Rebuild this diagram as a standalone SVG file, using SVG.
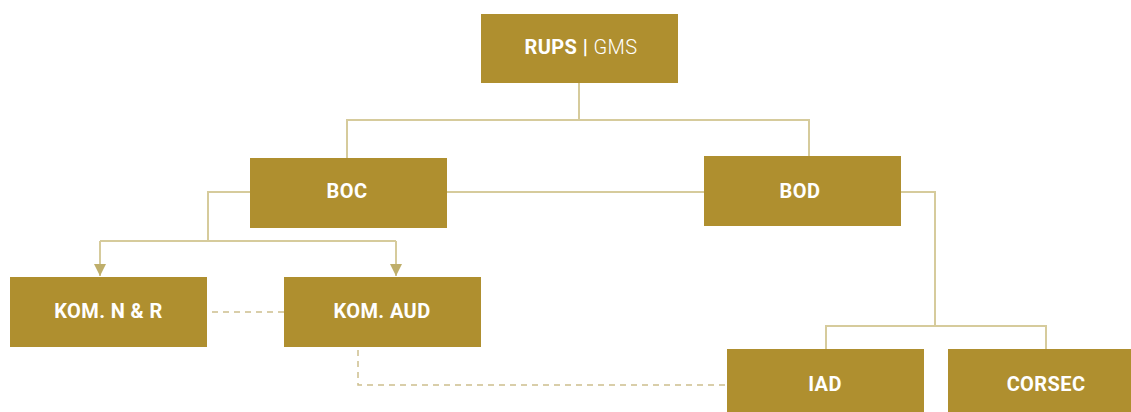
<svg xmlns="http://www.w3.org/2000/svg" width="1131" height="412" viewBox="0 0 1131 412">
  <defs>
    <style>
      .box { fill: #af8f2f; }
      .lbl { font-family: "Roboto", "Liberation Sans", sans-serif; font-size: 20px; font-weight: 700; fill: #ffffff; text-anchor: middle; dominant-baseline: central; letter-spacing: 0.4px; }
      .lite { font-weight: 300; }
      .wire { fill: none; stroke: #d6cb9c; stroke-width: 2; }
      .dash { fill: none; stroke: #cdbf8d; stroke-width: 1.5; stroke-dasharray: 6 5; }
    </style>
    <marker id="arrow" viewBox="0 0 10 10" refX="10" refY="5" markerWidth="17" markerHeight="12" markerUnits="userSpaceOnUse" orient="auto">
      <path d="M0,0 L10,5 L0,10 Z" fill="#bfae6a"/>
    </marker>
  </defs>

  <g id="connectors">
    <path class="wire" d="M579,83 V120 M347,158 V120 H809 V156"/>
    <path class="wire" d="M447,192 H704"/>
    <path class="wire" d="M250,192 H208 V241"/>
    <path class="wire" d="M100,241 H396"/>
    <line class="wire" x1="100" y1="241" x2="100" y2="276" marker-end="url(#arrow)"/>
    <line class="wire" x1="396" y1="241" x2="396" y2="276" marker-end="url(#arrow)"/>
    <path class="wire" d="M901,192 H935 V326"/>
    <path class="wire" d="M826,349 V326 H1046 V349"/>
    <path class="dash" d="M212,312 H284"/>
    <path class="dash" d="M358,350 V385 H727"/>
  </g>

  <g id="rups">
    <rect class="box" x="481" y="14" width="197" height="69"/>
    <text class="lbl" x="581" y="47">RUPS | <tspan class="lite">GMS</tspan></text>
  </g>
  <g id="boc">
    <rect class="box" x="250" y="158" width="197" height="70"/>
    <text class="lbl" x="347" y="191">BOC</text>
  </g>
  <g id="bod">
    <rect class="box" x="704" y="156" width="197" height="70"/>
    <text class="lbl" x="800" y="191">BOD</text>
  </g>
  <g id="kom-nr">
    <rect class="box" x="10" y="277" width="197" height="70"/>
    <text class="lbl" x="108.5" y="311">KOM. N &amp; R</text>
  </g>
  <g id="kom-aud">
    <rect class="box" x="284" y="277" width="197" height="70"/>
    <text class="lbl" x="382" y="311">KOM. AUD</text>
  </g>
  <g id="iad">
    <rect class="box" x="727" y="349" width="197" height="63"/>
    <text class="lbl" x="825" y="384">IAD</text>
  </g>
  <g id="corsec">
    <rect class="box" x="948" y="349" width="197" height="63"/>
    <text class="lbl" x="1046" y="384">CORSEC</text>
  </g>
</svg>
